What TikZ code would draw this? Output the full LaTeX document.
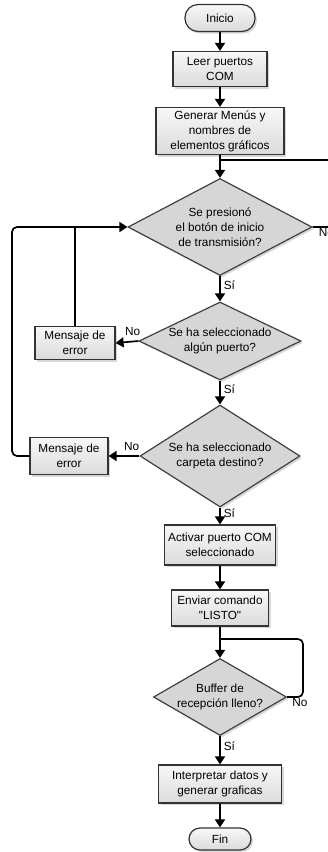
\documentclass[tikz,border=0pt]{standalone}
\usepackage{fontspec}
\setmainfont{Liberation Sans}
\usetikzlibrary{shapes.geometric,arrows.meta,shadows}

\begin{document}
\begin{tikzpicture}[x=1pt,y=-1pt,
	font=\fontsize{11.8}{15}\selectfont,
	sombra/.style={drop shadow={shadow xshift=2pt,shadow yshift=-2pt,fill=gray!60,opacity=.5}},
	proceso/.style={rectangle, draw=black!80, line width=1.2pt, top color=gray!6, bottom color=gray!28, sombra, align=center, inner sep=1pt},
	terminal/.style={proceso},
	decision/.style={diamond, draw=black!75, line width=1.2pt, fill=gray!32, sombra, align=center, inner sep=0pt},
	flecha/.style={line width=1.7pt, -{Triangle[length=8pt,width=10pt]}},
	linea/.style={line width=1.7pt},
	etiqueta/.style={inner sep=1pt}]
	\useasboundingbox (0,0) rectangle (328,852);
	
	\node[terminal, minimum width=70pt, minimum height=27pt, rounded corners=13pt] (inicio) at (220,18) {Inicio};
	\node[proceso, minimum width=94pt, minimum height=35pt] (leer) at (220,69) {Leer puertos\\COM};
	\node[proceso, minimum width=128pt, minimum height=47pt] (menus) at (220,131) {Generar Menús y\\nombres de\\elementos gráficos};
	\node[decision, aspect=1.9, minimum width=184pt, minimum height=97pt] (transm) at (220,227) {Se presionó\\el botón de inicio\\de transmisión?};
	\node[decision, aspect=2.08, minimum width=162pt, minimum height=78pt] (puerto) at (220,341) {Se ha seleccionado\\algún puerto?};
	\node[proceso, minimum width=80pt, minimum height=33pt] (error1) at (75,343) {Mensaje de\\error};
	\node[decision, aspect=1.57, minimum width=160pt, minimum height=102pt] (carpeta) at (220,456) {Se ha seleccionado\\carpeta destino?};
	\node[proceso, minimum width=78pt, minimum height=37pt] (error2) at (69,456) {Mensaje de\\error};
	\node[proceso, minimum width=111pt, minimum height=40pt] (activar) at (220,545) {Activar puerto COM\\seleccionado};
	\node[proceso, minimum width=97pt, minimum height=36pt] (enviar) at (220,608) {Enviar comando\\\textquotedbl LISTO\textquotedbl};
	\node[decision, aspect=1.73, minimum width=133pt, minimum height=77pt] (buffer) at (220,697) {Buffer de\\recepción lleno?};
	\node[proceso, minimum width=123pt, minimum height=38pt] (interp) at (220,784) {Interpretar datos y\\generar graficas};
	\node[terminal, minimum width=62pt, minimum height=22pt, rounded corners=11pt] (fin) at (220,839) {Fin};
	
	\coordinate (j1) at (220,160);
	\coordinate (j4) at (220,639);
	
	\draw[flecha] (inicio) -- (leer);
	\draw[flecha] (leer) -- (menus);
	\draw[flecha] (menus) -- (transm);
	\draw[linea, rounded corners=5pt] (transm.east) -- (333,227) |- (j1);
	\node[etiqueta, anchor=north west] (no1) at ([xshift=5pt]transm.east) {No};
	\draw[flecha] (transm) -- node[etiqueta, right=2pt, pos=.35] (si1) {Sí} (puerto);
	\draw[flecha] (puerto.west) -- node[etiqueta, above=4pt, pos=.25] (no2) {No} (error1.east);
	\draw[linea] (error1.north) -- (error1.north |- transm.west);
	\draw[flecha] (puerto) -- node[etiqueta, right=2pt, pos=.35] (si2) {Sí} (carpeta);
	\draw[flecha] (carpeta.west) -- node[etiqueta, above=4pt, pos=.25] (no3) {No} (error2.east);
	\draw[flecha, rounded corners=5pt] (error2.west) -- (12,456) |- (transm.west);
	\draw[flecha] (carpeta) -- node[etiqueta, right=2pt, pos=.35] (si3) {Sí} (activar);
	\draw[flecha] (activar) -- (enviar);
	\draw[flecha] (enviar) -- (buffer);
	\draw[linea, rounded corners=5pt] (buffer.east) -- (303,697) |- (j4);
	\node[etiqueta, anchor=north west] (no4) at ([xshift=4pt]buffer.east) {No};
	\draw[flecha] (buffer) -- node[etiqueta, right=2pt, pos=.35] (si4) {Sí} (interp);
	\draw[flecha] (interp) -- (fin);
\end{tikzpicture}
\end{document}
